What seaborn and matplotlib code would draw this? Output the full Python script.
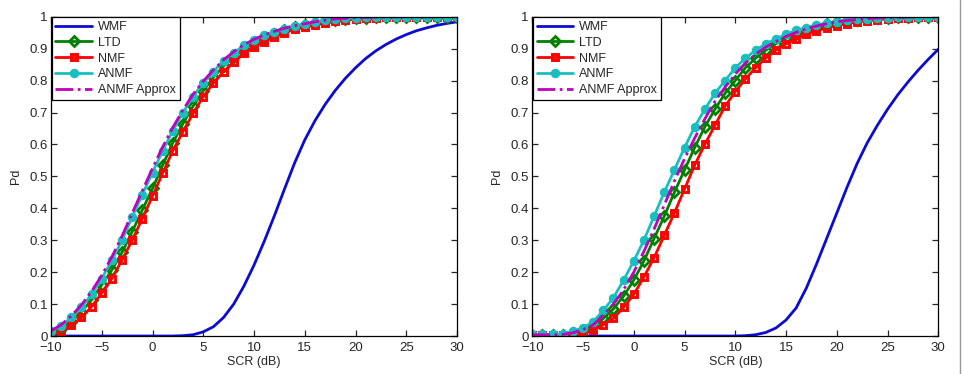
# -*- coding: utf-8 -*-
# Pd vs SCR, two panels, MATLAB-like look
import matplotlib
matplotlib.use('Agg')
import pandas as pd
import seaborn as sns
import matplotlib.pyplot as plt
from matplotlib.lines import Line2D

#%% data (1 dB steps)
scr = list(range(-10, 31))

# left panel
wmf_a = [0, 0, 0, 0, 0, 0, 0, 0, 0, 0,
         0, 0, 0, 0.001, 0.004, 0.013, 0.029, 0.058, 0.1, 0.156,
         0.222, 0.296, 0.376, 0.46, 0.542, 0.614, 0.674, 0.725, 0.769, 0.807,
         0.84, 0.869, 0.893, 0.913, 0.93, 0.944, 0.956, 0.965, 0.973, 0.979,
         0.984]
ltd_a = [0.008, 0.022, 0.045, 0.076, 0.113, 0.16, 0.207, 0.262, 0.327, 0.395,
         0.462, 0.535, 0.605, 0.665, 0.72, 0.768, 0.81, 0.845, 0.873, 0.898,
         0.918, 0.934, 0.947, 0.958, 0.967, 0.975, 0.981, 0.986, 0.99, 0.993,
         0.995, 0.997, 0.998, 0.999, 0.999, 1.0, 1.0, 1.0, 1.0, 1.0,
         1.0]
nmf_a = [0.002, 0.014, 0.034, 0.058, 0.092, 0.134, 0.18, 0.238, 0.30, 0.368,
         0.438, 0.51, 0.58, 0.64, 0.697, 0.75, 0.792, 0.828, 0.859, 0.885,
         0.906, 0.922, 0.937, 0.95, 0.96, 0.968, 0.975, 0.981, 0.986, 0.99,
         0.993, 0.995, 0.997, 0.998, 0.999, 0.999, 1.0, 1.0, 1.0, 1.0,
         1.0]
anmf_a = [0.015, 0.032, 0.058, 0.09, 0.13, 0.18, 0.237, 0.30, 0.373, 0.443,
          0.512, 0.58, 0.643, 0.70, 0.75, 0.793, 0.828, 0.862, 0.887, 0.91,
          0.928, 0.942, 0.953, 0.963, 0.971, 0.978, 0.984, 0.989, 0.993, 0.995,
          0.997, 0.998, 0.999, 0.999, 1.0, 1.0, 1.0, 1.0, 1.0, 1.0,
          1.0]
apx_a = [0.016, 0.035, 0.063, 0.097, 0.14, 0.19, 0.248, 0.313, 0.385, 0.455,
         0.525, 0.592, 0.653, 0.708, 0.757, 0.798, 0.833, 0.865, 0.89, 0.912,
         0.929, 0.943, 0.954, 0.964, 0.972, 0.978, 0.984, 0.989, 0.993, 0.995,
         0.997, 0.998, 0.999, 0.999, 1.0, 1.0, 1.0, 1.0, 1.0, 1.0,
         1.0]

# right panel
wmf_b = [0, 0, 0, 0, 0, 0, 0, 0, 0, 0,
         0, 0, 0, 0, 0, 0, 0, 0, 0, 0,
         0, 0.001, 0.004, 0.011, 0.025, 0.05, 0.088, 0.15, 0.225, 0.305,
         0.385, 0.465, 0.54, 0.605, 0.66, 0.71, 0.755, 0.795, 0.832, 0.866,
         0.898]
ltd_b = [0.003, 0.003, 0.003, 0.004, 0.008, 0.015, 0.03, 0.055, 0.085, 0.125,
         0.175, 0.235, 0.305, 0.375, 0.45, 0.52, 0.59, 0.655, 0.71, 0.76,
         0.80, 0.84, 0.87, 0.895, 0.915, 0.932, 0.946, 0.958, 0.968, 0.976,
         0.982, 0.987, 0.99, 0.993, 0.995, 0.997, 0.998, 0.999, 0.999, 1.0,
         1.0]
nmf_b = [0.002, 0.002, 0.002, 0.002, 0.002, 0.008, 0.018, 0.035, 0.055, 0.09,
         0.13, 0.185, 0.245, 0.315, 0.385, 0.46, 0.535, 0.60, 0.66, 0.72,
         0.765, 0.805, 0.84, 0.87, 0.895, 0.915, 0.93, 0.945, 0.955, 0.965,
         0.972, 0.978, 0.984, 0.988, 0.991, 0.994, 0.996, 0.997, 0.998, 0.999,
         1.0]
anmf_b = [0.005, 0.005, 0.005, 0.007, 0.015, 0.025, 0.045, 0.08, 0.12, 0.175,
          0.235, 0.30, 0.375, 0.45, 0.52, 0.59, 0.655, 0.71, 0.76, 0.80,
          0.84, 0.87, 0.895, 0.915, 0.93, 0.945, 0.957, 0.966, 0.974, 0.98,
          0.985, 0.989, 0.992, 0.994, 0.996, 0.997, 0.998, 0.999, 1.0, 1.0,
          1.0]
apx_b = [0.004, 0.004, 0.004, 0.005, 0.01, 0.02, 0.035, 0.065, 0.1, 0.145,
         0.2, 0.265, 0.335, 0.41, 0.485, 0.555, 0.62, 0.68, 0.735, 0.78,
         0.82, 0.855, 0.882, 0.905, 0.922, 0.938, 0.951, 0.962, 0.971, 0.978,
         0.984, 0.988, 0.991, 0.994, 0.996, 0.997, 0.998, 0.999, 1.0, 1.0,
         1.0]

xticks = [-10, -5, 0, 5, 10, 15, 20, 25, 30]
yticks = [0, 0.1, 0.2, 0.3, 0.4, 0.5, 0.6, 0.7, 0.8, 0.9, 1]
ylabs = ['0', '0.1', '0.2', '0.3', '0.4', '0.5', '0.6', '0.7', '0.8', '0.9', '1']

#%% style
sns.set_style('ticks')
plt.rcParams['font.family'] = ['Liberation Sans', 'DejaVu Sans']
plt.rcParams['font.size'] = 9
plt.rcParams['axes.linewidth'] = 0.9

c_wmf = '#0b0bd2'
c_ltd = '#008000'
c_nmf = '#ff0000'
c_anmf = '#19bfbf'
c_apx = '#bf00bf'


def panel(ax, wmf, ltd, nmf, anmf, apx):
    sns.lineplot(x=scr, y=wmf, ax=ax, color=c_wmf, linewidth=2, label='WMF')
    sns.lineplot(x=scr, y=ltd, ax=ax, color=c_ltd, linewidth=2, marker='D',
                 markersize=5, markerfacecolor='none', markeredgecolor=c_ltd,
                 markeredgewidth=2, label='LTD')
    sns.lineplot(x=scr, y=nmf, ax=ax, color=c_nmf, linewidth=2, marker='s',
                 markersize=4.5, markerfacecolor='none', markeredgecolor=c_nmf,
                 markeredgewidth=2.1, label='NMF')
    sns.lineplot(x=scr, y=anmf, ax=ax, color=c_anmf, linewidth=2, marker='o',
                 markersize=6, markerfacecolor=c_anmf, markeredgecolor=c_anmf,
                 markeredgewidth=0.8, label='ANMF')
    sns.lineplot(x=scr, y=apx, ax=ax, color=c_apx, linewidth=2,
                 linestyle='-.', label='ANMF Approx')

    ax.set_xlim(-10, 30)
    ax.set_ylim(0, 1)
    ax.set_xticks(xticks)
    ax.set_yticks(yticks)
    ax.set_yticklabels(ylabs)
    ax.tick_params(direction='in', top=True, right=True, length=4.5,
                   width=0.9, labelsize=9.5)
    ax.tick_params(axis='x', pad=4.5)
    ax.tick_params(axis='y', pad=2.5)
    ax.set_xlabel('SCR (dB)', fontsize=9, labelpad=1)
    ax.set_ylabel('Pd', fontsize=9, labelpad=5)
    for s in ax.spines.values():
        s.set_color('black')
    leg = ax.legend(loc='upper left', fontsize=9, frameon=True, fancybox=False,
                    edgecolor='black', framealpha=1, borderaxespad=0.05,
                    handlelength=2.9, handletextpad=0.5, labelspacing=0.3,
                    borderpad=0.3)
    leg.get_frame().set_linewidth(0.9)


fig = plt.figure(figsize=(9.66, 3.74), dpi=100)
ax1 = fig.add_axes([0.0528, 0.1016, 0.4203, 0.8537])
ax2 = fig.add_axes([0.551, 0.1016, 0.4203, 0.8537])
panel(ax1, wmf_a, ltd_a, nmf_a, anmf_a, apx_a)
panel(ax2, wmf_b, ltd_b, nmf_b, anmf_b, apx_b)

# thin grey border line at the right edge of the image
fig.add_artist(Line2D([0.9938, 0.9938], [0, 1], transform=fig.transFigure,
                      color='#9a9a9a', linewidth=1))

plt.savefig('out.png', dpi=100)
